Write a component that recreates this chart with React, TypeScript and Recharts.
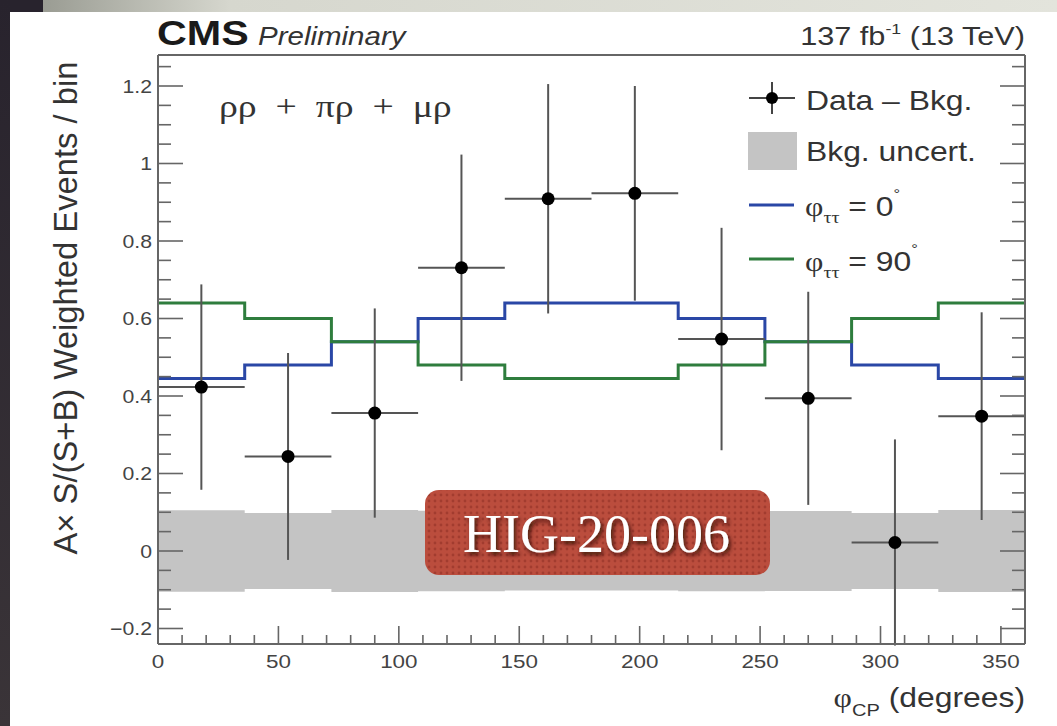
import { ComposedChart, XAxis, YAxis, Line, Area, Scatter, ErrorBar } from "recharts";

// bins of phi_CP (degrees)
const binEdges = [0, 36, 72, 108, 144, 180, 216, 252, 288, 324, 360];
const phiTT0 = [0.445, 0.48, 0.54, 0.6, 0.64, 0.64, 0.6, 0.54, 0.48, 0.445];
const phiTT90 = [0.64, 0.6, 0.54, 0.48, 0.445, 0.445, 0.48, 0.54, 0.6, 0.64];
const bkgUncert = [0.105, 0.098, 0.106, 0.104, 0.102, 0.102, 0.104, 0.103, 0.098, 0.106];

// data - bkg points
const binCenters = [18, 54, 90, 126, 162, 198, 234, 270, 306, 342];
const dataMinusBkg = [0.423, 0.244, 0.356, 0.731, 0.909, 0.923, 0.547, 0.394, 0.022, 0.348];
const dataErr = [0.265, 0.267, 0.27, 0.292, 0.296, 0.277, 0.287, 0.275, 0.266, 0.268];

const xLabels = [0, 50, 100, 150, 200, 250, 300, 350];
const yLabels = [-0.2, 0, 0.2, 0.4, 0.6, 0.8, 1, 1.2];

// minor ticks (unlabelled)
const xTicks = Array.from({ length: 37 }, (_, i) => i * 10);
const yTicks = Array.from({ length: 30 }, (_, i) => Math.round((-0.2 + i * 0.05) * 100) / 100);

const nBins = phiTT0.length;
const steps = binEdges.map((x, i) => {
  const b = Math.min(i, nBins - 1);
  return { x, phi0: phiTT0[b], phi90: phiTT90[b], band: [-bkgUncert[b], bkgUncert[b]] };
});

const points = binCenters.map((x, i) => ({
  x,
  y: dataMinusBkg[i],
  ex: (binEdges[i + 1] - binEdges[i]) / 2,
  ey: dataErr[i],
}));

const SX = 1.18;
const FRAME = "#666";
const SANS = "'Liberation Sans', Arial, Helvetica, sans-serif";
const SERIF = "'Liberation Serif', 'Times New Roman', serif";

const isYMajor = (v: number) => yLabels.some((l) => Math.abs(l - v) < 1e-6);
const fmtY = (v: number) => {
  if (Math.abs(v) < 1e-9) return "0";
  if (Math.abs(v - 1) < 1e-9) return "1";
  return (v < 0 ? "\u2212" : "") + Math.abs(v).toFixed(1);
};

function BottomTick(props: any) {
  const { x, y, payload } = props;
  const v = payload.value;
  const major = xLabels.includes(v);
  return (
    <g>
      <line x1={x} x2={x} y1={y} y2={y - (major ? 18 : 9)} stroke={FRAME} strokeWidth={1.6} />
      {major && (
        <text
          transform={`translate(${x},${y + 24}) scale(${SX},1)`}
          textAnchor="middle"
          fontSize={19}
          fontFamily={SANS}
          fill="#444"
        >
          {v}
        </text>
      )}
    </g>
  );
}

function TopTick(props: any) {
  const { x, y, payload } = props;
  const major = xLabels.includes(payload.value);
  return <line x1={x} x2={x} y1={y} y2={y + (major ? 18 : 9)} stroke={FRAME} strokeWidth={1.6} />;
}

function LeftTick(props: any) {
  const { x, y, payload } = props;
  const v = payload.value;
  const major = isYMajor(v);
  return (
    <g>
      <line x1={x} x2={x + (major ? 25 : 13)} y1={y} y2={y} stroke={FRAME} strokeWidth={1.6} />
      {major && (
        <text
          transform={`translate(${x - 6},${y + 6.5}) scale(${SX},1)`}
          textAnchor="end"
          fontSize={18}
          fontFamily={SANS}
          fill="#444"
        >
          {fmtY(v)}
        </text>
      )}
    </g>
  );
}

function RightTick(props: any) {
  const { x, y, payload } = props;
  const major = isYMajor(payload.value);
  return <line x1={x} x2={x - (major ? 25 : 13)} y1={y} y2={y} stroke={FRAME} strokeWidth={1.6} />;
}

function DataDot(props: any) {
  return <circle cx={props.cx} cy={props.cy} r={6.5} fill="#000" />;
}

export default function App() {
  const axisLine = { stroke: FRAME, strokeWidth: 2 };
  return (
    <div
      style={{
        position: "absolute",
        left: 0,
        top: 0,
        width: 1057,
        height: 726,
        background: "#fff",
        overflow: "hidden",
      }}
    >
      <div style={{ position: "absolute", left: 0, top: 0 }}>
        <ComposedChart
          width={1057}
          height={726}
          data={steps}
          margin={{ top: 54, right: 31, bottom: 81, left: 157 }}
        >
          <XAxis
            xAxisId="b"
            dataKey="x"
            type="number"
            domain={[0, 360]}
            allowDataOverflow
            ticks={xTicks}
            interval={0}
            height={1}
            tickSize={0}
            tickMargin={0}
            tickLine={false}
            axisLine={axisLine}
            tick={BottomTick}
          />
          <XAxis
            xAxisId="t"
            orientation="top"
            type="number"
            domain={[0, 360]}
            allowDataOverflow
            ticks={xTicks}
            interval={0}
            height={1}
            tickSize={0}
            tickMargin={0}
            tickLine={false}
            axisLine={axisLine}
            tick={TopTick}
          />
          <YAxis
            yAxisId="l"
            type="number"
            domain={[-0.24, 1.28]}
            allowDataOverflow
            ticks={yTicks}
            interval={0}
            width={1}
            tickSize={0}
            tickMargin={0}
            tickLine={false}
            axisLine={axisLine}
            tick={LeftTick}
          />
          <YAxis
            yAxisId="r"
            orientation="right"
            type="number"
            domain={[-0.24, 1.28]}
            allowDataOverflow
            ticks={yTicks}
            interval={0}
            width={1}
            tickSize={0}
            tickMargin={0}
            tickLine={false}
            axisLine={axisLine}
            tick={RightTick}
          />
          <Area
            xAxisId="b"
            yAxisId="l"
            dataKey="band"
            type="stepAfter"
            fill="#c4c4c4"
            fillOpacity={1}
            stroke="none"
            isAnimationActive={false}
          />
          <Line
            xAxisId="b"
            yAxisId="l"
            dataKey="phi0"
            type="stepAfter"
            stroke="#2a47a6"
            strokeWidth={3}
            dot={false}
            activeDot={false}
            isAnimationActive={false}
          />
          <Line
            xAxisId="b"
            yAxisId="l"
            dataKey="phi90"
            type="stepAfter"
            stroke="#2e7d3d"
            strokeWidth={3}
            dot={false}
            activeDot={false}
            isAnimationActive={false}
          />
          <Scatter
            xAxisId="b"
            yAxisId="l"
            data={points}
            dataKey="y"
            shape={DataDot}
            isAnimationActive={false}
          >
            <ErrorBar dataKey="ex" direction="x" width={0} stroke="#555" strokeWidth={2} isAnimationActive={false} />
            <ErrorBar dataKey="ey" direction="y" width={0} stroke="#555" strokeWidth={2} isAnimationActive={false} />
          </Scatter>
        </ComposedChart>
      </div>

      <svg
        width={1057}
        height={726}
        style={{ position: "absolute", left: 0, top: 0, pointerEvents: "none" }}
      >
        <defs>
          <pattern id="dots" width="6" height="6" patternUnits="userSpaceOnUse">
            <rect width="6" height="6" fill="#bb4d3d" />
            <circle cx="3" cy="3" r="1.4" fill="#a23c2f" />
          </pattern>
          <filter id="shadow" x="-10%" y="-20%" width="130%" height="160%">
            <feDropShadow dx="2" dy="3" stdDeviation="2" floodColor="#2a0a05" floodOpacity="0.85" />
          </filter>
        </defs>

        {/* header */}
        <text transform={`translate(157,45) scale(${SX},1)`} fontSize={35} fontWeight="bold" fontFamily={SANS} fill="#1a1a1a">
          CMS
        </text>
        <text transform={`translate(258,45) scale(${SX},1)`} fontSize={25} fontStyle="italic" fontFamily={SANS} fill="#333">
          Preliminary
        </text>
        <text transform={`translate(1025,45) scale(${SX},1)`} textAnchor="end" fontSize={26} fontFamily={SANS} fill="#333">
          137 fb
          <tspan dy={-11} fontSize={15}>-1</tspan>
          <tspan dy={11}> (13 TeV)</tspan>
        </text>

        {/* channel label */}
        <text
          transform={`translate(219,117) scale(${SX},1)`}
          fontSize={32}
          fontFamily={SERIF}
          fill="#333"
          style={{ whiteSpace: "pre" }}
        >
          {"ρρ  +  πρ  +  μρ"}
        </text>

        {/* axis titles */}
        <text
          transform={`translate(77,308) scale(${SX},1) rotate(-90)`}
          textAnchor="middle"
          fontSize={28}
          fontFamily={SANS}
          fill="#333"
          textLength={493}
          lengthAdjust="spacingAndGlyphs"
        >
          A× S/(S+B) Weighted Events / bin
        </text>
        <text transform={`translate(1025,707) scale(${SX},1)`} textAnchor="end" fontSize={27} fontFamily={SANS} fill="#333">
          <tspan fontFamily={SERIF}>φ</tspan>
          <tspan dy={9} fontSize={17}>CP</tspan>
          <tspan dy={-9}> (degrees)</tspan>
        </text>

        {/* legend */}
        <line x1={749} x2={795} y1={98} y2={98} stroke="#444" strokeWidth={2} />
        <line x1={772} x2={772} y1={82} y2={114} stroke="#444" strokeWidth={2} />
        <circle cx={772} cy={98} r={6} fill="#000" />
        <text transform={`translate(806,110) scale(${SX},1)`} fontSize={27} fontFamily={SANS} fill="#333">
          Data – Bkg.
        </text>
        <rect x={748} y={132} width={49} height={38} fill="#c4c4c4" />
        <text transform={`translate(806,161) scale(${SX},1)`} fontSize={27} fontFamily={SANS} fill="#333">
          Bkg. uncert.
        </text>
        <line x1={749} x2={794} y1={205} y2={205} stroke="#2a47a6" strokeWidth={3} />
        <text transform={`translate(805,216) scale(${SX},1)`} fontSize={27} fontFamily={SANS} fill="#333">
          <tspan fontFamily={SERIF}>φ</tspan>
          <tspan dy={7} fontSize={17} fontFamily={SERIF}>ττ</tspan>
          <tspan dy={-7}> = 0</tspan>
          <tspan dy={-17} fontSize={14}>°</tspan>
        </text>
        <line x1={749} x2={794} y1={259} y2={259} stroke="#2e7d3d" strokeWidth={3} />
        <text transform={`translate(805,271) scale(${SX},1)`} fontSize={27} fontFamily={SANS} fill="#333">
          <tspan fontFamily={SERIF}>φ</tspan>
          <tspan dy={7} fontSize={17} fontFamily={SERIF}>ττ</tspan>
          <tspan dy={-7}> = 90</tspan>
          <tspan dy={-17} fontSize={14}>°</tspan>
        </text>

        {/* note badge */}
        <rect x={425} y={490} width={345} height={85} rx={14} fill="url(#dots)" />
        <text x={463} y={552} fontSize={54} fontFamily={SERIF} fill="#fff" filter="url(#shadow)">
          HIG-20-006
        </text>
      </svg>

      {/* slide edges */}
      <div
        style={{
          position: "absolute",
          left: 0,
          top: 0,
          width: 10,
          height: 726,
          background: "linear-gradient(to bottom, #28232d, #3a3438)",
        }}
      />
      <div
        style={{
          position: "absolute",
          left: 10,
          top: 0,
          width: 1047,
          height: 12,
          background:
            "linear-gradient(to right, #28232d 0px, #28232d 33px, #9a9c93 33px, #d6d7ce 220px, #e3e4dc 100%)",
        }}
      />
    </div>
  );
}
